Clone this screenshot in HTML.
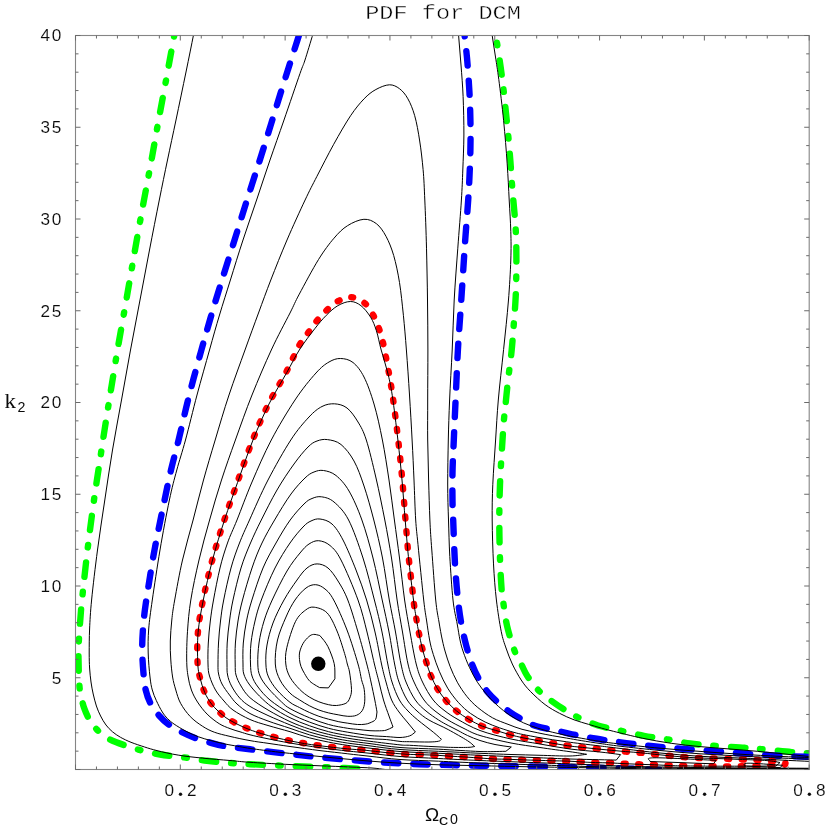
<!DOCTYPE html>
<html><head><meta charset="utf-8"><title>PDF for DCM</title>
<style>
html,body{margin:0;padding:0;background:#fff;}
body{width:830px;height:830px;overflow:hidden;}
svg{display:block;font-family:"Liberation Mono",monospace;}
</style></head><body>
<svg width="830" height="830" viewBox="0 0 830 830">
<rect width="830" height="830" fill="#fff"/>
<defs><clipPath id="c"><rect x="75.5" y="35.5" width="733.7" height="734.0"/></clipPath></defs>
<g clip-path="url(#c)">
<path d="M174.7 33.0C172.1 47.0 169.6 60.8 167.0 75.0C164.4 89.2 161.6 103.8 159.0 118.0C156.4 132.2 154.0 146.3 151.5 160.0C149.0 173.7 146.8 185.0 144.0 200.0C141.2 215.0 137.9 233.3 135.0 250.0C132.1 266.7 129.2 283.3 126.3 300.0C123.4 316.7 120.3 333.3 117.5 350.0C114.7 366.7 112.0 383.3 109.3 400.0C106.6 416.7 104.0 433.3 101.5 450.0C99.0 466.7 96.3 483.3 94.0 500.0C91.7 516.7 89.5 533.3 87.5 550.0C85.5 566.7 83.1 589.2 82.0 600.0C80.9 610.8 81.2 608.1 80.7 614.5C80.2 620.9 79.4 631.2 79.0 638.5C78.6 645.8 78.4 650.0 78.5 658.0C78.6 666.0 78.9 679.7 79.5 686.7C80.1 693.7 81.2 696.4 82.0 700.0C82.8 703.6 83.0 705.1 84.3 708.4C85.5 711.7 87.5 716.6 89.5 720.0C91.5 723.4 93.8 726.2 96.4 729.0C99.0 731.8 101.8 734.3 105.0 736.5C108.2 738.7 110.1 739.8 115.7 742.0C121.3 744.2 131.0 747.5 138.4 749.6C145.8 751.7 152.4 753.2 160.0 754.5C167.6 755.8 176.4 756.4 184.2 757.4C192.0 758.4 199.5 759.9 207.0 760.8C214.5 761.7 222.2 762.3 229.4 762.9C236.6 763.5 240.7 763.7 250.0 764.2C259.3 764.7 273.3 765.3 285.0 765.8C296.7 766.3 310.0 766.6 320.0 767.0C330.0 767.4 336.7 767.6 345.0 768.0C353.3 768.4 361.7 768.9 370.0 769.3" fill="none" stroke="#00ff00" stroke-width="6.40" stroke-linecap="round" stroke-linejoin="round" stroke-dasharray="14.4 14.9 2.6 15.2" stroke-dashoffset="28.2"/>
<path d="M495.3 33.0C495.9 36.5 496.2 37.6 497.1 43.4C498.0 49.1 499.6 59.7 500.7 67.5C501.8 75.3 502.7 82.8 503.6 90.4C504.5 98.0 505.2 105.5 506.0 113.3C506.8 121.1 507.7 129.3 508.4 137.3C509.1 145.3 509.8 153.6 510.4 161.4C511.0 169.2 511.5 177.9 512.0 184.3C512.5 190.7 512.7 192.6 513.3 200.0C513.9 207.4 515.2 219.0 515.7 229.0C516.2 239.0 516.4 248.8 516.4 260.0C516.4 271.2 516.2 285.5 515.7 296.4C515.2 307.3 514.4 316.4 513.7 325.3C513.0 334.2 512.6 340.8 511.7 350.0C510.8 359.2 508.9 372.4 508.0 380.7C507.1 389.0 506.6 393.8 506.0 400.0C505.4 406.2 504.7 411.3 504.1 418.0C503.5 424.7 503.2 428.9 502.5 440.0C501.8 451.1 500.5 470.9 500.0 484.3C499.5 497.7 499.3 508.1 499.3 520.5C499.3 533.0 499.6 547.4 500.0 559.0C500.4 570.6 501.1 582.8 501.7 590.4C502.3 598.0 502.7 598.8 503.6 604.8C504.5 610.8 505.4 618.9 507.2 626.5C509.0 634.1 512.2 644.4 514.5 650.6C516.8 656.9 519.1 659.9 521.2 664.0C523.3 668.1 524.1 671.1 527.0 675.5C529.9 679.9 534.3 686.0 538.6 690.4C542.9 694.8 548.6 698.7 553.0 702.0C557.4 705.3 561.0 707.5 565.0 710.0C569.0 712.5 571.6 714.3 577.1 716.9C582.6 719.5 590.6 723.2 598.0 725.5C605.4 727.8 613.6 729.1 621.3 730.8C629.0 732.5 636.3 734.4 644.0 735.8C651.7 737.2 659.9 738.1 667.6 739.4C675.3 740.7 682.3 742.4 690.0 743.5C697.7 744.6 704.8 745.1 713.9 745.8C723.0 746.5 737.0 747.2 744.8 747.8C752.6 748.3 753.0 748.4 760.8 749.1C768.6 749.8 783.2 751.4 791.7 752.1C800.2 752.8 805.2 753.0 812.0 753.4" fill="none" stroke="#00ff00" stroke-width="6.40" stroke-linecap="round" stroke-linejoin="round" stroke-dasharray="14.35 14.84 2.6 15.13" stroke-dashoffset="19.2"/>
<path d="M299.7 33.0C297.5 40.0 296.3 43.7 293.0 54.0C289.7 64.3 285.0 79.0 280.0 95.0C275.0 111.0 268.5 132.5 263.0 150.0C257.5 167.5 252.0 184.2 247.0 200.0C242.0 215.8 237.5 230.7 233.0 245.0C228.5 259.3 223.9 273.6 220.2 285.8C216.4 298.0 213.6 307.3 210.5 318.0C207.4 328.7 205.0 337.0 201.4 350.0C197.8 363.0 192.8 381.0 189.0 396.0C185.2 411.0 181.6 427.7 178.6 440.0C175.6 452.3 173.3 460.0 171.0 470.0C168.7 480.0 167.3 486.7 164.6 500.0C161.8 513.3 157.6 533.3 154.5 550.0C151.4 566.7 148.2 587.7 146.3 600.0C144.5 612.3 144.1 616.0 143.4 624.0C142.7 632.0 142.2 640.2 142.2 648.2C142.2 656.2 142.8 665.3 143.4 672.3C144.0 679.3 144.5 684.8 145.7 690.0C146.9 695.2 148.3 699.1 150.5 703.3C152.7 707.5 155.8 711.7 158.9 715.3C162.0 718.9 165.4 722.1 169.2 724.9C173.0 727.7 177.4 730.0 181.8 732.2C186.2 734.4 191.1 736.5 195.7 738.2C200.3 739.9 204.8 741.1 209.5 742.4C214.2 743.7 217.2 744.9 224.0 746.0C230.8 747.1 239.8 748.0 250.0 749.3C260.2 750.5 273.3 752.2 285.0 753.5C296.7 754.8 307.5 756.1 320.0 757.3C332.5 758.5 346.7 759.8 360.0 760.8C373.3 761.8 386.7 762.7 400.0 763.4C413.3 764.1 426.7 764.4 440.0 764.8C453.3 765.2 465.0 765.4 480.0 765.7C495.0 766.0 513.3 766.2 530.0 766.5C546.7 766.8 563.7 766.9 580.0 767.3C596.3 767.6 614.7 768.1 628.0 768.6C641.3 769.1 649.3 769.5 660.0 770.0" fill="none" stroke="#0000ff" stroke-width="6.40" stroke-linecap="round" stroke-linejoin="round" stroke-dasharray="14.3 15.03" stroke-dashoffset="26.5"/>
<path d="M464.3 33.0C465.2 41.3 466.1 48.0 467.0 57.8C467.9 67.6 468.8 81.1 469.4 91.6C470.0 102.0 470.2 110.9 470.4 120.5C470.6 130.1 470.6 139.8 470.4 149.4C470.2 159.0 469.8 169.9 469.4 178.3C469.0 186.7 468.8 190.4 468.2 200.0C467.6 209.6 466.4 223.9 465.5 236.0C464.6 248.1 464.0 259.0 463.1 272.3C462.2 285.6 461.1 302.8 460.2 315.7C459.3 328.6 458.7 335.9 457.9 350.0C457.1 364.1 456.3 385.0 455.6 400.0C454.9 415.0 454.3 427.9 453.8 440.0C453.3 452.1 452.7 462.1 452.5 472.3C452.3 482.5 452.4 493.2 452.5 501.2C452.6 509.1 452.8 509.6 453.2 520.0C453.6 530.5 454.2 550.6 455.0 563.9C455.8 577.2 456.9 590.0 458.0 600.0C459.1 610.0 460.0 616.4 461.4 624.0C462.8 631.6 464.5 639.1 466.3 645.8C468.1 652.5 469.9 658.5 472.0 664.0C474.1 669.5 476.2 674.2 478.9 679.0C481.6 683.8 484.9 688.7 488.0 692.5C491.1 696.3 493.8 698.7 497.3 701.8C500.8 704.9 504.9 708.5 508.8 711.3C512.7 714.1 516.8 716.5 520.8 718.8C524.8 721.1 528.6 723.3 533.0 725.0C537.4 726.7 542.4 727.7 547.0 728.8C551.6 729.9 555.8 730.5 560.7 731.6C565.6 732.7 571.6 734.2 576.4 735.2C581.2 736.2 584.7 736.8 589.5 737.6C594.3 738.4 600.6 739.5 605.4 740.2C610.2 740.9 613.6 741.4 618.4 742.0C623.2 742.6 629.5 743.5 634.3 744.1C639.1 744.7 642.5 745.0 647.3 745.5C652.1 746.0 658.3 746.8 663.3 747.3C668.3 747.8 672.4 748.0 677.2 748.4C682.0 748.8 687.3 749.2 692.1 749.6C696.9 750.0 700.9 750.3 705.9 750.7C710.9 751.1 716.9 751.4 721.9 751.8C726.9 752.2 730.8 752.6 735.6 753.0C740.4 753.4 745.7 753.8 750.5 754.1C755.3 754.4 759.6 754.6 764.2 754.9C768.8 755.2 773.0 755.5 778.0 755.7C783.0 756.0 788.3 756.2 794.0 756.4C799.7 756.6 806.0 756.8 812.0 757.0" fill="none" stroke="#0000ff" stroke-width="6.40" stroke-linecap="round" stroke-linejoin="round" stroke-dasharray="14.3 15.03" stroke-dashoffset="11.0"/>
<path d="M351.3 297.2C355.8 297.5 361.2 300.2 364.8 303.2C368.4 306.1 370.8 310.7 373.1 314.9C375.5 319.1 377.2 323.7 378.9 328.4C380.6 333.1 381.6 336.3 383.1 342.9C384.6 349.5 386.4 359.2 388.0 368.0C389.6 376.8 390.9 383.7 392.6 395.7C394.3 407.7 396.6 425.9 398.2 440.0C399.8 454.1 401.1 466.7 402.3 480.0C403.5 493.3 404.4 507.2 405.5 520.0C406.6 532.8 407.4 544.9 408.6 556.6C409.8 568.3 411.6 582.5 412.5 590.4C413.4 598.3 413.4 599.5 414.0 604.3C414.6 609.1 415.6 614.2 416.4 619.1C417.2 624.0 418.0 628.7 419.0 633.5C420.0 638.3 421.0 643.2 422.2 648.0C423.4 652.8 424.8 657.6 426.3 662.2C427.8 666.9 429.1 671.5 431.0 675.9C432.9 680.3 435.0 684.8 437.5 688.9C440.0 693.0 443.0 697.1 446.2 700.8C449.4 704.5 452.9 707.9 456.6 711.0C460.4 714.1 464.4 716.8 468.7 719.3C473.0 721.8 477.9 724.4 482.4 726.2C486.9 728.1 491.2 729.0 495.7 730.4C500.2 731.8 504.8 733.3 509.5 734.6C514.2 735.9 519.1 737.0 524.0 738.0C528.9 739.0 533.9 739.8 538.7 740.7C543.5 741.6 548.1 742.5 552.9 743.3C557.7 744.1 562.4 745.0 567.3 745.7C572.2 746.4 577.4 746.9 582.3 747.4C587.2 747.9 591.9 748.4 596.7 748.9C601.5 749.4 606.4 749.8 611.2 750.3C616.0 750.8 620.8 751.2 625.7 751.6C630.6 752.0 635.8 752.3 640.6 752.8C645.5 753.2 650.0 753.8 654.8 754.3C659.6 754.8 664.6 755.3 669.5 755.8C674.4 756.3 679.2 756.7 684.1 757.1C689.0 757.5 694.1 757.8 699.0 758.0C703.9 758.2 708.6 758.2 713.4 758.4C718.2 758.5 722.8 758.7 727.6 758.9C732.5 759.1 737.5 759.3 742.5 759.5C747.5 759.7 752.6 759.8 757.4 760.0C762.2 760.2 767.0 760.7 771.1 761.0C775.2 761.3 779.6 761.2 782.0 761.6C784.4 762.0 785.4 762.6 785.5 763.3C785.6 764.0 784.9 765.1 782.5 765.6C780.1 766.1 777.9 765.9 771.1 766.0C764.4 766.1 751.7 766.2 742.0 766.3C732.3 766.3 722.6 766.4 713.0 766.3C703.4 766.2 691.5 766.0 684.2 765.9C676.9 765.8 673.9 765.7 669.0 765.5C664.1 765.3 659.5 765.0 654.6 764.8C649.7 764.6 644.3 764.5 639.4 764.3C634.5 764.1 629.8 763.9 625.0 763.7C620.2 763.5 615.5 763.1 610.5 762.9C605.5 762.7 600.2 762.8 595.3 762.6C590.3 762.4 585.5 762.1 580.8 761.9C576.1 761.6 572.0 761.3 567.3 761.1C562.5 760.9 557.1 760.9 552.3 760.8C547.4 760.7 543.0 760.4 538.2 760.3C533.4 760.1 528.3 760.1 523.4 759.9C518.5 759.7 513.7 759.4 508.9 759.3C504.1 759.1 499.1 759.2 494.5 759.0C489.9 758.8 486.1 758.4 481.2 758.1C476.3 757.8 470.1 757.3 465.0 757.0C459.9 756.7 455.3 756.5 450.5 756.2C445.7 755.9 440.9 755.5 436.0 755.2C431.1 755.0 426.0 754.9 421.0 754.7C416.0 754.5 412.0 754.6 406.0 754.2C400.0 753.8 391.7 753.0 385.0 752.3C378.3 751.6 372.2 750.8 366.0 750.2C359.8 749.6 353.2 749.1 347.8 748.6C342.4 748.1 338.2 747.6 333.4 747.1C328.6 746.6 323.7 746.0 318.9 745.4C314.1 744.8 309.1 744.1 304.5 743.3C299.9 742.5 295.8 741.8 291.0 740.8C286.2 739.8 280.7 738.6 275.8 737.4C270.9 736.2 265.7 734.7 261.4 733.4C257.1 732.1 253.6 730.9 250.0 729.5C246.4 728.1 243.3 726.8 240.0 725.2C236.7 723.6 233.0 721.8 230.0 720.0C227.0 718.2 225.2 717.3 222.2 714.7C219.2 712.1 214.8 708.2 211.9 704.5C209.0 700.8 206.7 696.9 204.7 692.4C202.7 687.9 201.2 682.6 200.0 677.7C198.8 672.9 197.9 670.8 197.6 663.3C197.2 655.8 197.0 643.0 197.9 632.5C198.8 622.0 200.6 612.1 203.0 600.0C205.4 587.9 208.8 573.3 212.3 560.0C215.9 546.7 220.1 532.9 224.3 520.0C228.5 507.1 232.6 495.7 237.3 482.4C242.0 469.1 247.5 453.1 252.7 440.0C257.9 426.9 262.9 415.2 268.5 404.0C274.1 392.8 280.9 382.3 286.0 372.5C291.1 362.7 295.6 351.8 299.3 345.2C303.0 338.6 305.1 337.0 308.0 333.0C310.9 329.0 313.6 324.9 316.6 321.1C319.7 317.4 322.8 313.8 326.3 310.5C329.8 307.2 333.6 303.4 337.8 301.2C342.0 299.0 346.8 296.9 351.3 297.2Z" fill="none" stroke="#ff0000" stroke-width="6.40" stroke-linecap="round" stroke-linejoin="round" stroke-dasharray="2.1 12.554" stroke-dashoffset="0.2"/>
<g fill="none" stroke="#000" stroke-width="1.0" stroke-linejoin="miter" stroke-miterlimit="10"><path d="M319.8 635.5C321.2 637.2 322.6 638.7 324.0 640.5C325.4 642.3 326.6 644.1 327.9 646.5C329.1 648.9 330.4 652.1 331.5 655.0C332.6 657.9 333.6 660.9 334.2 663.6C334.8 666.3 334.8 668.5 334.9 671.0C335.0 673.5 334.9 676.2 334.9 678.8L328.4 687.9L319.6 687.6C317.6 686.4 315.3 685.2 313.5 684.0C311.7 682.8 310.4 682.0 308.9 680.2C307.4 678.5 305.8 675.8 304.5 673.5C303.2 671.2 301.8 668.8 301.0 666.5C300.2 664.2 299.7 661.9 299.5 659.5C299.3 657.1 299.1 654.7 299.7 652.0C300.3 649.3 301.6 646.0 303.1 643.4C304.6 640.8 307.1 638.1 308.9 636.6C310.6 635.1 311.8 634.6 313.6 634.4C315.4 634.2 317.7 635.1 319.8 635.5Z"/><path d="M314.2 607.2C317.8 607.7 323.4 609.0 327.2 613.0C331.0 617.0 334.1 624.2 337.0 631.0C339.9 637.8 342.9 648.0 344.6 653.5C346.3 659.0 346.5 660.9 347.3 664.0C348.1 667.1 348.8 667.8 349.5 672.0C350.2 676.2 351.4 685.0 351.5 689.3C351.6 693.6 350.7 695.7 349.8 698.0C348.9 700.3 348.1 702.0 345.9 703.3C343.6 704.5 339.2 705.3 336.3 705.5C333.4 705.7 331.5 705.3 328.6 704.7C325.7 704.1 322.1 703.1 318.9 701.8C315.7 700.5 312.5 699.1 309.3 697.0C306.1 694.9 302.8 692.6 299.6 689.3C296.4 686.0 292.3 681.4 290.0 677.2C287.7 673.0 286.3 668.9 285.8 664.0C285.3 659.1 285.2 654.8 286.8 647.7C288.4 640.7 292.3 628.0 295.4 621.7C298.5 615.4 302.4 612.5 305.5 610.1C308.6 607.7 310.6 606.7 314.2 607.2Z"/><path d="M315.7 584.7C318.9 584.9 322.0 586.5 325.0 589.0C328.0 591.5 330.0 593.2 333.7 600.0C337.4 606.8 342.9 619.3 347.0 630.0C351.1 640.7 355.6 655.7 358.0 664.0C360.4 672.3 360.5 675.4 361.5 679.6C362.5 683.8 363.7 685.6 364.2 689.3C364.7 693.0 365.0 698.3 364.7 701.8C364.4 705.3 363.7 708.2 362.3 710.5C360.9 712.8 358.9 714.3 356.5 715.3C354.1 716.3 350.9 716.4 347.8 716.3C344.8 716.2 341.4 715.4 338.2 714.8C335.0 714.2 331.8 713.7 328.6 712.9C325.4 712.1 322.1 711.2 318.9 710.0C315.7 708.8 312.5 707.4 309.3 705.7C306.1 704.0 302.8 702.0 299.6 699.9C296.4 697.8 293.3 696.4 290.0 693.1C286.7 689.8 282.4 684.9 280.0 680.0C277.6 675.1 275.7 670.7 275.3 664.0C274.9 657.3 275.7 647.8 277.5 640.0C279.3 632.2 283.1 623.7 286.0 617.0C288.9 610.3 291.7 604.8 295.0 600.0C298.3 595.2 302.6 590.5 306.0 588.0C309.4 585.5 312.5 584.5 315.7 584.7Z"/><path d="M377.0 712.0C376.5 714.5 376.7 717.7 375.5 719.5C374.3 721.3 371.7 722.0 370.0 722.8C368.3 723.6 367.3 723.9 365.2 724.2C363.1 724.5 360.4 724.7 357.5 724.5C354.6 724.3 351.0 723.7 347.8 723.2C344.6 722.7 341.4 722.3 338.2 721.6C335.0 720.9 331.8 720.1 328.6 719.2C325.4 718.3 322.1 717.4 318.9 716.3C315.7 715.2 312.5 713.8 309.3 712.4C306.1 711.0 302.8 709.3 299.6 707.6C296.4 705.9 293.8 705.2 290.0 702.3C286.2 699.4 280.6 694.2 277.0 690.0C273.4 685.8 270.4 681.3 268.5 677.0C266.6 672.7 266.1 669.3 265.9 664.0C265.6 658.7 265.8 651.8 267.0 645.0C268.2 638.2 270.2 630.5 273.0 623.0C275.8 615.5 280.0 607.2 284.0 600.0C288.0 592.8 293.2 585.3 297.0 580.0C300.8 574.7 303.6 570.7 307.0 568.0C310.4 565.3 313.6 563.9 317.1 563.9C320.6 563.9 324.5 565.1 328.0 568.0C331.5 570.9 334.7 575.7 338.0 581.0C341.3 586.3 344.5 591.5 347.8 600.0C351.1 608.5 354.8 621.3 358.0 632.0C361.2 642.7 364.6 655.7 366.8 664.0C369.0 672.3 369.7 676.0 371.0 682.0C372.3 688.0 373.8 695.0 374.8 700.0C375.8 705.0 376.3 708.0 377.0 712.0Z"/><path d="M393.0 727.0C390.7 728.1 388.2 729.6 386.0 730.2C383.8 730.8 382.2 730.7 379.5 730.8C376.8 730.9 373.6 730.9 370.0 730.7C366.4 730.5 361.5 729.8 357.8 729.4C354.1 729.0 352.7 729.1 347.8 728.3C342.9 727.5 335.0 726.3 328.6 724.5C322.2 722.7 315.7 720.4 309.3 717.7C302.9 715.1 294.6 711.2 290.0 708.6C285.4 706.0 285.3 705.4 281.6 702.0C277.9 698.6 271.6 692.3 268.0 688.0C264.4 683.7 261.7 680.0 260.0 676.0C258.3 672.0 258.0 669.5 257.8 664.0C257.6 658.5 258.0 650.2 259.0 643.0C260.0 635.8 261.8 628.2 264.0 621.0C266.2 613.8 268.4 608.3 272.2 600.0C276.0 591.7 282.4 578.8 287.0 571.0C291.6 563.2 296.3 557.5 300.0 553.0C303.7 548.5 305.9 546.0 309.0 544.0C312.1 542.0 315.1 540.5 318.6 540.7C322.1 541.0 326.3 542.3 330.0 545.5C333.7 548.7 336.3 550.9 341.0 560.0C345.7 569.1 353.7 588.0 358.0 600.0C362.3 612.0 364.3 621.3 367.0 632.0C369.7 642.7 372.4 655.7 374.4 664.0C376.4 672.3 377.5 676.0 379.0 682.0C380.5 688.0 381.8 694.3 383.5 700.0C385.2 705.7 387.4 711.5 389.0 716.0C390.6 720.5 391.7 723.3 393.0 727.0Z"/><path d="M415.4 732.0C413.5 733.3 412.2 735.0 409.6 735.9C407.0 736.8 403.8 737.4 400.0 737.5C396.2 737.6 391.7 736.9 386.7 736.6C381.7 736.3 376.5 736.2 370.0 735.5C363.5 734.8 354.7 733.4 347.8 732.2C340.9 731.0 335.0 730.0 328.6 728.3C322.2 726.6 315.7 724.5 309.3 722.0C302.9 719.5 296.6 717.1 290.0 713.4C283.4 709.7 275.3 704.4 270.0 700.0C264.7 695.6 261.0 691.0 258.0 687.0C255.0 683.0 253.2 679.8 252.0 676.0C250.8 672.2 250.7 669.5 250.5 664.0C250.3 658.5 250.2 650.2 251.0 643.0C251.8 635.8 253.3 628.2 255.0 621.0C256.7 613.8 258.0 608.8 261.3 600.0C264.6 591.2 270.2 577.5 275.0 568.0C279.8 558.5 285.3 549.8 290.0 543.0C294.7 536.2 299.5 530.7 303.0 527.0C306.5 523.3 308.2 522.3 311.0 521.0C313.8 519.7 316.5 518.5 320.0 519.0C323.5 519.5 328.2 520.5 332.0 524.0C335.8 527.5 339.0 532.3 343.0 540.0C347.0 547.7 352.1 560.0 356.0 570.0C359.9 580.0 363.4 589.7 366.6 600.0C369.8 610.3 372.5 621.3 375.0 632.0C377.5 642.7 379.7 655.7 381.5 664.0C383.3 672.3 384.3 676.0 386.0 682.0C387.7 688.0 389.4 695.0 391.6 700.0C393.8 705.0 396.4 708.3 399.0 712.0C401.6 715.7 404.5 718.7 407.2 722.0C409.9 725.3 412.7 728.7 415.4 732.0Z"/><path d="M441.4 739.3C440.5 739.9 440.7 740.8 438.6 741.2C436.5 741.7 433.7 741.9 428.9 742.0C424.1 742.1 414.4 741.8 409.6 741.7C404.8 741.6 403.8 741.8 400.0 741.4C396.2 741.0 391.7 740.1 386.7 739.6C381.7 739.1 376.5 739.3 370.0 738.6C363.5 737.9 354.7 736.6 347.8 735.5C340.9 734.4 335.0 733.3 328.6 731.7C322.2 730.1 315.7 728.0 309.3 725.7C302.9 723.4 296.2 720.8 290.0 717.7C283.8 714.6 277.1 710.6 272.0 707.0C266.9 703.4 263.2 699.8 259.4 696.0C255.6 692.2 251.6 687.7 249.0 684.0C246.4 680.3 244.8 677.3 243.8 674.0C242.8 670.7 243.1 669.2 243.0 664.0C242.9 658.8 242.7 650.2 243.3 643.0C243.9 635.8 245.1 628.2 246.5 621.0C247.9 613.8 249.2 608.8 251.9 600.0C254.7 591.2 259.0 577.5 263.0 568.0C267.0 558.5 271.5 551.0 276.0 543.0C280.5 535.0 285.5 526.5 290.2 520.0C294.9 513.5 300.4 507.6 304.0 504.0C307.6 500.4 309.1 499.7 312.0 498.5C314.9 497.3 317.8 496.2 321.5 496.8C325.2 497.4 329.5 498.1 334.0 502.0C338.5 505.9 343.8 510.7 348.6 520.0C353.4 529.3 358.7 544.7 363.0 558.0C367.3 571.3 371.2 587.7 374.4 600.0C377.6 612.3 379.8 621.3 382.0 632.0C384.2 642.7 386.1 655.7 387.8 664.0C389.5 672.3 390.1 676.0 392.0 682.0C393.9 688.0 396.7 695.2 399.4 700.0C402.1 704.8 404.9 707.7 408.0 711.0C411.1 714.3 413.5 716.4 417.8 720.0C422.1 723.6 429.8 729.3 433.7 732.5C437.6 735.7 438.8 737.0 441.4 739.3Z"/><path d="M474.7 746.5C472.3 746.8 471.9 747.3 467.5 747.4C463.1 747.5 454.6 747.5 448.2 747.3C441.8 747.1 435.3 746.7 428.9 746.4C422.5 746.1 414.4 745.5 409.6 745.3C404.8 745.0 406.6 745.6 400.0 744.9C393.4 744.2 378.7 742.4 370.0 741.3C361.3 740.2 354.7 739.4 347.8 738.2C340.9 737.1 335.0 735.9 328.6 734.4C322.2 732.9 315.7 731.1 309.3 729.0C302.9 726.9 296.9 724.8 290.0 721.6C283.1 718.4 274.7 714.0 268.0 710.0C261.3 706.0 254.5 701.7 250.0 697.7C245.5 693.7 243.3 689.8 241.0 686.0C238.7 682.2 237.0 678.7 236.0 675.0C235.0 671.3 235.3 669.3 235.2 664.0C235.1 658.7 234.9 650.2 235.4 643.0C235.9 635.8 236.8 628.2 238.0 621.0C239.2 613.8 240.2 608.8 242.5 600.0C244.8 591.2 248.8 577.5 252.0 568.0C255.2 558.5 258.2 551.0 262.0 543.0C265.8 535.0 269.8 528.2 274.6 520.0C279.4 511.8 285.9 501.0 291.0 494.0C296.1 487.0 301.2 481.7 305.0 478.0C308.8 474.3 310.9 473.2 314.0 472.0C317.1 470.8 319.8 469.9 323.5 470.5C327.2 471.1 331.8 472.1 336.0 475.5C340.2 478.9 344.7 483.6 349.0 491.0C353.3 498.4 357.9 508.8 361.9 520.0C365.9 531.2 369.6 544.7 373.0 558.0C376.4 571.3 379.5 587.7 382.2 600.0C384.9 612.3 386.9 621.3 389.0 632.0C391.1 642.7 392.9 655.7 394.6 664.0C396.3 672.3 396.9 676.0 399.0 682.0C401.1 688.0 404.2 695.2 407.2 700.0C410.2 704.8 413.4 707.7 417.0 711.0C420.6 714.3 423.7 716.9 428.9 720.0C434.1 723.1 441.8 726.1 448.2 729.6C454.6 733.1 463.1 737.9 467.5 740.7C471.9 743.5 472.3 744.6 474.7 746.5Z"/><path d="M511.3 747.0L505.9 751.3C497.3 751.4 491.2 751.9 480.0 751.5C468.8 751.1 451.9 749.9 438.6 749.2C425.3 748.5 411.4 748.4 400.0 747.5C388.6 746.6 378.7 744.7 370.0 743.6C361.3 742.5 354.7 741.8 347.8 740.7C340.9 739.6 335.0 738.5 328.6 737.0C322.2 735.5 315.7 734.0 309.3 732.0C302.9 730.0 296.9 727.6 290.0 724.9C283.1 722.1 274.7 718.6 268.0 715.5C261.3 712.4 254.7 709.3 250.0 706.4C245.3 703.5 242.8 701.4 239.7 698.0C236.6 694.6 233.5 689.8 231.5 686.0C229.5 682.2 228.3 678.7 227.6 675.0C226.8 671.3 227.1 669.3 227.0 664.0C226.9 658.7 226.8 650.2 227.2 643.0C227.6 635.8 228.5 628.2 229.5 621.0C230.5 613.8 231.1 608.8 233.0 600.0C234.9 591.2 238.1 577.5 241.0 568.0C243.9 558.5 247.1 551.0 250.5 543.0C253.9 535.0 256.9 528.8 261.3 520.0C265.7 511.2 271.6 499.3 277.0 490.0C282.4 480.7 288.8 471.2 294.0 464.0C299.2 456.8 304.2 450.8 308.0 447.0C311.8 443.2 313.8 442.2 317.0 441.0C320.2 439.8 323.5 439.0 327.5 439.6C331.5 440.2 336.6 440.9 341.0 444.5C345.4 448.1 350.2 454.1 354.0 461.0C357.8 467.9 360.7 476.2 364.0 486.0C367.3 495.8 370.7 508.0 373.8 520.0C376.9 532.0 379.9 544.7 382.5 558.0C385.1 571.3 387.1 587.7 389.3 600.0C391.5 612.3 393.6 621.3 395.5 632.0C397.4 642.7 399.2 655.7 401.0 664.0C402.8 672.3 403.6 676.0 406.0 682.0C408.4 688.0 412.0 695.2 415.3 700.0C418.6 704.8 422.1 707.7 426.0 711.0C429.9 714.3 434.9 717.6 438.6 720.0C442.3 722.4 445.0 723.8 448.2 725.5C451.4 727.2 454.8 728.8 458.0 730.5C461.2 732.2 463.8 733.8 467.5 735.5C471.2 737.2 475.4 739.0 480.0 740.5C484.6 742.0 489.8 743.4 495.0 744.5C500.2 745.6 505.9 746.2 511.3 747.0Z"/><path d="M586.6 754.3C581.1 754.9 577.8 755.8 570.0 756.0C562.2 756.2 549.8 755.5 540.0 755.3C530.2 755.0 521.0 754.8 511.0 754.5C501.0 754.2 492.1 753.8 480.0 753.3C467.9 752.8 451.9 751.9 438.6 751.3C425.3 750.7 411.4 750.4 400.0 749.5C388.6 748.6 378.7 747.0 370.0 745.9C361.3 744.8 354.7 744.1 347.8 743.1C340.9 742.1 335.0 741.0 328.6 739.6C322.2 738.2 315.7 736.7 309.3 734.8C302.9 732.9 296.9 730.6 290.0 728.3C283.1 726.0 274.7 723.5 268.0 721.0C261.3 718.5 255.2 716.3 250.0 713.5C244.8 710.7 240.4 707.1 237.0 704.0C233.6 700.9 232.0 698.3 229.5 695.0C227.0 691.7 223.8 687.5 222.0 684.0C220.2 680.5 219.3 677.3 218.6 674.0C217.9 670.7 218.0 669.2 218.0 664.0C218.0 658.8 218.1 650.2 218.5 643.0C218.9 635.8 219.6 628.2 220.5 621.0C221.4 613.8 221.9 608.8 223.7 600.0C225.4 591.2 228.4 577.5 231.0 568.0C233.6 558.5 236.4 551.0 239.5 543.0C242.6 535.0 244.8 530.5 249.5 520.0C254.2 509.5 261.1 493.3 268.0 480.0C274.9 466.7 284.0 450.5 290.8 440.0C297.6 429.5 303.8 422.6 309.0 417.0C314.2 411.4 317.8 408.7 322.0 406.5C326.2 404.3 330.3 403.6 334.5 403.8C338.7 404.1 343.1 405.0 347.0 408.0C350.9 411.0 354.8 416.7 358.0 422.0C361.2 427.3 363.3 430.7 366.3 440.0C369.3 449.3 372.9 464.7 376.0 478.0C379.1 491.3 382.2 506.7 384.8 520.0C387.4 533.3 389.4 544.7 391.5 558.0C393.6 571.3 395.3 587.7 397.1 600.0C398.9 612.3 400.7 621.3 402.5 632.0C404.3 642.7 406.1 655.7 408.0 664.0C409.9 672.3 411.3 676.0 414.0 682.0C416.7 688.0 420.5 695.2 424.0 700.0C427.5 704.8 431.0 707.7 435.0 711.0C439.0 714.3 443.2 717.1 448.0 720.0C452.8 722.9 458.7 725.9 464.0 728.5C469.3 731.1 472.2 733.1 480.0 735.5C487.8 737.9 501.0 741.0 511.0 743.0C521.0 745.0 530.2 746.0 540.0 747.5C549.8 749.0 562.2 750.6 570.0 751.7C577.8 752.8 581.1 753.4 586.6 754.3Z"/><path d="M620.6 754.6L616.3 760.1C600.9 759.7 582.7 759.4 570.0 759.0C557.3 758.6 549.8 758.2 540.0 757.8C530.2 757.4 521.0 757.0 511.0 756.6C501.0 756.2 492.1 755.8 480.0 755.3C467.9 754.8 451.9 753.9 438.6 753.3C425.3 752.7 411.4 752.4 400.0 751.5C388.6 750.6 378.7 749.2 370.0 748.2C361.3 747.2 354.7 746.4 347.8 745.4C340.9 744.4 335.0 743.4 328.6 742.1C322.2 740.8 315.7 739.5 309.3 737.8C302.9 736.1 296.9 733.8 290.0 731.7C283.1 729.7 274.7 727.5 268.0 725.5C261.3 723.5 255.8 722.1 250.0 719.5C244.2 716.9 237.3 713.1 233.0 710.0C228.7 706.9 226.9 704.3 224.0 701.0C221.1 697.7 217.9 694.2 215.5 690.0C213.1 685.8 210.8 680.3 209.5 676.0C208.2 671.7 208.2 669.5 208.0 664.0C207.8 658.5 207.9 650.2 208.3 643.0C208.7 635.8 209.4 628.2 210.3 621.0C211.2 613.8 211.9 608.8 213.5 600.0C215.1 591.2 217.7 577.5 220.0 568.0C222.3 558.5 224.7 551.0 227.5 543.0C230.3 535.0 232.9 530.2 237.0 520.0C241.1 509.8 246.3 495.3 252.0 482.0C257.7 468.7 264.1 453.7 271.3 440.0C278.5 426.3 287.6 411.2 295.0 400.0C302.4 388.8 310.3 379.3 316.0 373.0C321.7 366.7 324.9 364.4 329.0 362.0C333.1 359.6 336.5 358.4 340.5 358.5C344.5 358.6 349.1 359.4 353.0 362.5C356.9 365.6 360.5 370.1 364.0 377.0C367.5 383.9 370.9 393.5 374.0 404.0C377.1 414.5 379.9 427.3 382.4 440.0C384.9 452.7 387.0 466.7 389.0 480.0C391.0 493.3 392.6 507.0 394.4 520.0C396.1 533.0 397.8 544.7 399.5 558.0C401.2 571.3 402.9 587.7 404.6 600.0C406.4 612.3 408.1 621.3 410.0 632.0C411.9 642.7 414.1 655.7 416.2 664.0C418.3 672.3 419.7 676.0 422.5 682.0C425.3 688.0 429.4 695.2 433.2 700.0C436.9 704.8 440.9 707.8 445.0 711.0C449.1 714.2 452.2 716.2 458.0 719.5C463.8 722.8 471.2 727.2 480.0 730.5C488.8 733.8 501.0 736.8 511.0 739.0C521.0 741.2 530.2 742.3 540.0 744.0C549.8 745.7 560.0 747.7 570.0 749.0C580.0 750.3 591.6 751.1 600.0 752.0C608.4 752.9 613.7 753.7 620.6 754.6Z"/><path d="M780.0 762.5L776.0 766.0C764.7 766.1 752.5 766.2 742.0 766.2C731.5 766.2 722.6 766.2 713.0 766.2C703.4 766.2 691.5 766.0 684.2 765.9C676.9 765.8 673.9 765.7 669.0 765.5C664.1 765.3 659.5 765.0 654.6 764.8C649.7 764.6 644.3 764.5 639.4 764.3C634.5 764.1 629.8 763.9 625.0 763.7C620.2 763.5 615.5 763.1 610.5 762.9C605.5 762.7 600.2 762.8 595.3 762.6C590.3 762.4 585.5 762.1 580.8 761.9C576.1 761.6 572.0 761.3 567.3 761.1C562.5 760.9 557.1 760.9 552.3 760.8C547.4 760.7 543.0 760.4 538.2 760.3C533.4 760.1 528.3 760.1 523.4 759.9C518.5 759.7 513.7 759.4 508.9 759.3C504.1 759.1 499.1 759.2 494.5 759.0C489.9 758.8 486.1 758.4 481.2 758.1C476.3 757.8 470.1 757.3 465.0 757.0C459.9 756.7 455.3 756.5 450.5 756.2C445.7 755.9 440.9 755.5 436.0 755.2C431.1 755.0 426.0 754.9 421.0 754.7C416.0 754.5 412.0 754.6 406.0 754.2C400.0 753.8 391.7 753.1 385.0 752.5C378.3 751.9 372.2 750.9 366.0 750.3C359.8 749.7 353.2 749.4 347.8 748.9C342.4 748.4 338.2 747.9 333.4 747.4C328.6 746.9 323.7 746.2 318.9 745.6C314.1 745.0 309.1 744.4 304.5 743.6C299.9 742.8 295.8 742.0 291.0 741.0C286.2 740.0 280.7 738.8 275.8 737.6C270.9 736.4 265.7 734.9 261.4 733.6C257.1 732.3 253.6 731.1 250.0 729.8C246.4 728.4 243.3 727.1 240.0 725.5C236.7 723.9 233.0 722.1 230.0 720.3C227.0 718.5 225.2 717.3 222.2 714.7C219.2 712.1 214.8 708.2 211.9 704.5C209.0 700.8 206.7 696.9 204.7 692.4C202.7 687.9 201.2 682.6 200.0 677.7C198.8 672.9 198.1 670.8 197.8 663.3C197.5 655.8 197.2 643.0 198.1 632.5C199.0 622.0 200.9 612.1 203.3 600.0C205.7 587.9 209.0 573.3 212.5 560.0C216.0 546.7 220.3 532.9 224.5 520.0C228.7 507.1 232.8 495.7 237.6 482.4C242.3 469.1 247.8 453.1 253.0 440.0C258.2 426.9 263.4 415.2 269.0 404.0C274.6 392.8 281.8 381.5 286.8 372.5C291.9 363.5 294.7 357.3 299.3 350.0C303.9 342.7 310.2 334.6 314.7 328.8C319.2 323.0 322.4 319.2 326.3 315.3C330.2 311.4 333.8 308.0 337.8 305.7C341.8 303.4 346.5 301.5 350.4 301.5C354.3 301.5 357.6 303.1 361.0 305.7C364.4 308.3 368.0 313.0 370.6 317.2C373.2 321.4 374.6 325.2 376.4 330.7C378.2 336.2 379.3 343.1 381.2 350.0C383.1 356.9 385.6 364.4 387.5 372.0C389.4 379.6 390.6 384.4 392.3 395.7C394.0 407.0 396.3 425.9 397.9 440.0C399.5 454.1 400.8 466.7 402.0 480.0C403.2 493.3 404.1 507.2 405.2 520.0C406.3 532.8 407.0 543.3 408.4 556.6C409.8 569.9 412.2 589.6 413.5 600.0C414.8 610.4 415.5 613.5 416.4 619.1C417.3 624.7 418.0 628.7 419.0 633.5C420.0 638.3 421.0 643.2 422.2 648.0C423.4 652.8 424.8 657.6 426.3 662.2C427.8 666.9 429.1 671.5 431.0 675.9C432.9 680.3 435.0 684.8 437.5 688.9C440.0 693.0 443.0 697.1 446.2 700.8C449.4 704.5 452.9 707.9 456.6 711.0C460.4 714.1 464.4 716.8 468.7 719.3C473.0 721.8 477.9 724.4 482.4 726.2C486.9 728.1 491.2 729.0 495.7 730.4C500.2 731.8 504.8 733.3 509.5 734.6C514.2 735.9 519.1 737.0 524.0 738.0C528.9 739.0 533.9 739.8 538.7 740.7C543.5 741.6 548.1 742.5 552.9 743.3C557.7 744.1 562.4 745.0 567.3 745.7C572.2 746.4 577.4 746.9 582.3 747.4C587.2 747.9 591.9 748.4 596.7 748.9C601.5 749.4 606.4 749.8 611.2 750.3C616.0 750.8 620.8 751.2 625.7 751.6C630.6 752.0 635.8 752.3 640.6 752.8C645.5 753.2 650.0 753.8 654.8 754.3C659.6 754.8 664.6 755.3 669.5 755.8C674.4 756.3 679.2 756.7 684.1 757.1C689.0 757.5 694.1 757.8 699.0 758.0C703.9 758.2 708.6 758.2 713.4 758.4C718.2 758.5 722.8 758.7 727.6 758.9C732.5 759.1 737.5 759.3 742.5 759.5C747.5 759.7 752.6 759.8 757.4 760.0C762.2 760.2 767.3 760.6 771.1 761.0C774.9 761.4 777.0 762.0 780.0 762.5Z"/><path d="M812.0 761.5L812.0 768.3C801.3 768.2 792.0 768.2 780.0 768.1C768.0 768.0 753.3 768.0 740.0 767.9C726.7 767.8 713.3 767.8 700.0 767.6C686.7 767.5 673.3 767.3 660.0 767.0C646.7 766.7 633.3 766.5 620.0 766.0C606.7 765.5 593.3 764.8 580.0 764.3C566.7 763.8 556.7 763.4 540.0 762.8C523.3 762.2 496.9 761.2 480.0 760.5C463.1 759.8 451.9 759.2 438.6 758.5C425.3 757.8 411.4 757.4 400.0 756.5C388.6 755.6 378.7 754.2 370.0 753.3C361.3 752.4 356.1 751.9 347.8 751.0C339.5 750.1 329.6 749.0 320.0 747.7C310.4 746.4 298.7 744.5 290.0 743.0C281.3 741.5 274.7 740.2 268.0 738.8C261.3 737.4 254.7 736.0 250.0 734.8C245.3 733.6 243.3 732.8 240.0 731.8C236.7 730.8 233.5 730.0 230.0 728.6C226.5 727.2 223.0 726.1 219.2 723.7C215.4 721.3 210.7 717.7 207.1 714.1C203.5 710.5 200.1 706.0 197.5 702.0C194.9 698.0 193.0 694.3 191.4 690.0C189.8 685.7 188.8 681.0 188.0 676.0C187.2 671.0 186.8 667.5 186.7 660.0C186.6 652.5 186.8 641.3 187.5 631.3C188.2 621.3 188.9 611.9 190.8 600.0C192.7 588.1 195.9 573.3 199.0 560.0C202.1 546.7 205.8 533.3 209.6 520.0C213.3 506.7 217.2 493.3 221.5 480.0C225.8 466.7 230.3 454.2 235.4 440.0C240.5 425.8 246.0 410.0 252.0 395.0C258.0 380.0 265.0 363.7 271.3 350.0C277.6 336.3 285.3 322.3 290.0 313.0C294.7 303.7 294.5 303.0 299.3 294.1C304.1 285.2 312.8 268.7 318.6 259.4C324.4 250.1 329.2 243.8 334.0 238.2C338.8 232.6 342.5 228.8 347.5 225.7C352.5 222.5 359.1 219.6 363.9 219.3C368.7 219.0 372.7 220.9 376.4 223.7C380.1 226.5 383.1 231.0 386.0 236.3C388.9 241.6 391.4 247.8 393.7 255.5C395.9 263.2 397.9 272.5 399.5 282.5C401.1 292.5 402.2 304.1 403.4 315.3C404.5 326.6 405.4 336.7 406.4 350.0C407.4 363.3 408.6 380.0 409.5 395.0C410.4 410.0 411.4 425.8 412.1 440.0C412.9 454.2 413.4 466.7 414.0 480.0C414.6 493.3 415.0 509.2 415.7 520.0C416.4 530.8 416.7 531.3 418.0 544.6C419.3 557.9 422.3 587.4 423.7 600.0C425.1 612.6 425.5 613.3 426.5 620.0C427.5 626.7 428.5 634.2 429.6 640.0C430.7 645.8 431.7 649.3 433.3 654.5C434.9 659.7 436.9 665.7 439.3 671.3C441.7 676.9 444.5 683.0 447.7 688.2C450.9 693.4 454.8 698.5 458.6 702.7C462.4 706.9 466.2 710.3 470.6 713.5C475.0 716.7 480.3 719.6 485.1 722.0C489.9 724.4 494.7 726.1 499.5 727.8C504.3 729.5 510.0 731.3 514.0 732.4C518.0 733.5 519.4 733.8 523.4 734.6C527.4 735.4 533.0 736.4 537.8 737.3C542.6 738.1 547.5 739.0 552.3 739.7C557.1 740.5 561.9 741.1 566.7 741.8C571.5 742.5 575.7 743.0 581.2 743.7C586.8 744.4 593.5 745.2 600.0 746.0C606.5 746.8 610.0 747.2 620.0 748.4C630.0 749.6 646.7 751.7 660.0 753.0C673.3 754.3 686.7 755.5 700.0 756.3C713.3 757.1 726.7 757.4 740.0 758.0C753.3 758.6 768.0 759.4 780.0 760.0C792.0 760.6 801.3 761.0 812.0 761.5Z"/><path d="M812.0 759.3L812.0 768.9C801.3 768.8 792.0 768.8 780.0 768.7C768.0 768.7 753.3 768.7 740.0 768.6C726.7 768.5 713.3 768.5 700.0 768.4C686.7 768.3 673.3 768.2 660.0 768.0C646.7 767.8 633.3 767.6 620.0 767.3C606.7 767.0 593.3 766.7 580.0 766.3C566.7 765.9 556.7 765.5 540.0 765.0C523.3 764.5 496.9 763.6 480.0 763.0C463.1 762.4 451.9 761.8 438.6 761.2C425.3 760.6 411.4 760.3 400.0 759.5C388.6 758.7 378.7 757.2 370.0 756.3C361.3 755.3 356.1 754.8 347.8 753.8C339.5 752.8 329.6 751.8 320.0 750.6C310.4 749.4 298.7 747.7 290.0 746.5C281.3 745.3 274.7 744.3 268.0 743.3C261.3 742.3 256.3 741.8 250.0 740.6C243.7 739.5 235.9 737.8 230.0 736.4C224.1 735.0 218.9 733.9 214.3 732.2C209.7 730.5 206.3 728.7 202.3 726.1C198.3 723.5 193.8 720.3 190.2 716.5C186.6 712.7 183.0 707.7 180.6 703.3C178.2 698.9 177.1 694.4 175.8 690.0C174.5 685.6 173.4 682.0 172.6 677.0C171.8 672.0 171.2 666.0 170.8 660.0C170.4 654.0 170.1 647.7 170.3 641.0C170.5 634.3 171.1 626.8 171.8 620.0C172.5 613.2 172.9 610.0 174.7 600.0C176.5 590.0 179.4 573.3 182.5 560.0C185.6 546.7 189.6 533.3 193.1 520.0C196.6 506.7 199.8 493.3 203.5 480.0C207.2 466.7 210.9 454.2 215.2 440.0C219.4 425.8 224.0 410.0 229.0 395.0C234.0 380.0 240.1 363.7 245.0 350.0C249.9 336.3 254.2 324.7 258.5 313.0C262.8 301.3 266.1 292.2 270.8 280.0C275.6 267.8 281.3 253.3 287.0 240.0C292.7 226.7 300.1 210.6 305.1 200.0C310.1 189.4 312.1 185.7 316.9 176.4C321.7 167.1 328.1 154.4 333.7 144.3C339.3 134.2 345.5 123.3 350.6 115.7C355.7 108.1 359.9 103.2 364.1 98.8C368.3 94.4 371.7 91.8 375.9 89.5C380.1 87.2 385.5 84.9 389.4 84.8C393.3 84.7 396.4 86.4 399.5 88.7C402.6 91.0 405.4 94.3 407.9 98.8C410.4 103.3 412.7 108.7 414.7 115.7C416.7 122.7 418.3 132.0 419.7 141.0C421.1 150.0 422.2 159.8 423.1 169.6C424.0 179.4 424.2 186.9 424.8 200.0C425.4 213.1 426.1 231.5 426.5 248.2C426.9 264.9 427.3 283.0 427.5 300.0C427.7 317.0 427.9 333.3 427.9 350.0C427.9 366.7 427.7 385.0 427.7 400.0C427.7 415.0 427.5 426.7 427.7 440.0C427.9 453.3 428.2 466.7 428.6 480.0C429.0 493.3 429.4 508.3 429.9 520.0C430.4 531.7 430.8 536.7 431.8 550.0C432.8 563.3 434.5 588.0 435.7 600.0C436.9 612.0 437.9 615.3 439.0 622.0C440.1 628.7 441.2 635.0 442.3 640.0C443.4 645.0 444.0 647.6 445.3 652.0C446.6 656.4 448.1 661.5 450.1 666.5C452.1 671.5 454.5 677.2 457.3 682.2C460.1 687.2 463.6 692.4 467.0 696.6C470.4 700.8 473.6 704.0 477.8 707.5C482.1 711.0 487.5 715.0 492.5 717.8C497.5 720.6 503.1 722.4 508.0 724.3C512.9 726.2 517.0 727.9 522.0 729.3C527.0 730.7 532.8 731.7 537.8 732.8C542.8 733.9 547.5 734.8 552.3 735.7C557.1 736.6 561.9 737.3 566.7 738.1C571.5 738.9 575.7 739.7 581.2 740.6C586.8 741.5 593.5 742.6 600.0 743.5C606.5 744.4 610.0 745.0 620.0 746.2C630.0 747.4 646.7 749.2 660.0 750.5C673.3 751.8 686.7 752.9 700.0 753.8C713.3 754.7 726.7 755.3 740.0 756.0C753.3 756.7 768.0 757.5 780.0 758.0C792.0 758.5 801.3 758.9 812.0 759.3Z"/><path d="M313.3 33.0C310.5 42.0 307.2 53.2 305.0 60.0C302.8 66.8 303.5 63.5 300.0 73.5C296.5 83.5 289.0 105.6 284.0 120.0C279.0 134.4 274.6 146.7 270.0 160.0C265.4 173.3 261.1 186.7 256.6 200.0C252.1 213.3 247.4 226.7 243.0 240.0C238.6 253.3 234.3 267.5 230.4 280.0C226.5 292.5 223.0 303.3 219.5 315.0C216.0 326.7 213.2 336.7 209.5 350.0C205.8 363.3 201.0 380.0 197.0 395.0C193.0 410.0 188.9 427.5 185.5 440.0C182.1 452.5 179.5 460.0 176.8 470.0C174.1 480.0 172.2 486.7 169.4 500.0C166.6 513.3 162.8 533.3 160.0 550.0C157.2 566.7 154.2 586.8 152.3 600.0C150.4 613.2 149.4 620.2 148.7 629.0C148.0 637.8 148.0 645.0 148.2 653.0C148.4 661.0 149.3 670.8 150.0 677.0C150.7 683.2 151.2 686.1 152.3 690.0C153.4 693.9 154.6 696.8 156.3 700.5C158.0 704.2 160.4 709.0 162.3 712.0C164.2 715.0 165.5 716.5 167.5 718.5C169.5 720.5 171.0 722.0 174.1 724.1C177.2 726.2 182.1 729.2 186.1 731.3C190.1 733.4 194.2 735.2 198.2 736.7C202.2 738.2 206.2 739.3 210.2 740.4C214.2 741.5 218.3 742.5 222.3 743.4C226.3 744.3 229.7 744.9 234.3 745.7C238.9 746.5 242.4 747.3 250.0 748.4C257.6 749.5 268.3 750.9 280.0 752.3C291.7 753.6 306.7 755.2 320.0 756.5C333.3 757.8 346.7 759.2 360.0 760.3C373.3 761.4 386.7 762.5 400.0 763.2C413.3 764.0 426.7 764.4 440.0 764.8C453.3 765.2 465.0 765.4 480.0 765.7C495.0 766.0 513.3 766.5 530.0 766.8C546.7 767.1 561.7 767.3 580.0 767.6C598.3 767.9 620.0 768.4 640.0 768.7C660.0 769.0 680.0 769.1 700.0 769.3"/><path d="M458.4 33.0C459.3 43.7 460.2 54.4 461.0 65.0C461.8 75.6 462.6 84.7 463.1 96.4C463.6 108.1 463.9 122.7 463.9 135.0C463.8 147.3 463.2 159.2 462.8 170.0C462.4 180.8 462.2 187.0 461.4 200.0C460.6 213.0 459.0 231.5 457.8 248.2C456.6 264.9 455.1 283.0 454.2 300.0C453.3 317.0 453.0 333.3 452.2 350.0C451.4 366.7 450.2 385.0 449.6 400.0C449.0 415.0 448.6 426.0 448.3 440.0C448.0 454.0 447.7 470.7 447.7 484.0C447.7 497.3 448.1 507.9 448.5 520.0C448.9 532.1 449.1 543.3 449.8 556.6C450.6 569.9 451.8 588.8 453.0 600.0C454.2 611.2 456.0 617.3 457.2 624.0C458.4 630.7 459.0 635.3 460.0 640.0C461.0 644.7 461.7 647.4 463.3 652.0C464.9 656.6 467.2 662.7 469.6 667.7C472.0 672.7 474.4 677.6 477.4 682.2C480.4 686.8 484.0 691.4 487.5 695.4C491.0 699.4 494.6 703.0 498.3 706.3C502.0 709.6 505.3 712.2 509.5 715.0C513.7 717.8 518.7 720.6 523.4 722.8C528.1 725.0 533.0 726.6 537.8 728.2C542.6 729.8 547.5 731.0 552.3 732.2C557.1 733.4 561.9 734.5 566.7 735.5C571.5 736.5 575.7 737.2 581.2 738.2C586.8 739.2 593.5 740.4 600.0 741.4C606.5 742.4 610.0 742.9 620.0 744.0C630.0 745.1 646.7 747.0 660.0 748.2C673.3 749.4 686.7 750.4 700.0 751.4C713.3 752.4 726.7 753.4 740.0 754.2C753.3 755.0 768.0 755.8 780.0 756.4C792.0 757.0 801.3 757.2 812.0 757.6"/><path d="M193.9 33.0C191.3 46.0 189.0 57.5 186.0 72.0C183.0 86.5 179.1 105.3 176.0 120.0C172.9 134.7 170.3 146.7 167.5 160.0C164.7 173.3 162.3 185.0 159.3 200.0C156.3 215.0 152.7 233.3 149.5 250.0C146.3 266.7 143.2 283.3 140.0 300.0C136.8 316.7 133.6 333.3 130.5 350.0C127.4 366.7 124.5 383.3 121.5 400.0C118.5 416.7 115.3 433.3 112.5 450.0C109.7 466.7 107.3 483.3 104.8 500.0C102.3 516.7 99.7 533.3 97.5 550.0C95.3 566.7 92.9 586.8 91.6 600.0C90.3 613.2 90.0 620.2 89.6 629.0C89.2 637.8 89.2 646.5 89.2 653.0C89.2 659.5 89.3 663.2 89.6 668.0C89.9 672.8 90.4 677.7 91.0 682.0C91.6 686.3 92.3 690.0 93.2 694.0C94.1 698.0 95.2 702.3 96.4 706.0C97.6 709.7 99.0 712.8 100.6 716.0C102.2 719.2 104.0 722.4 106.0 725.0C108.0 727.6 110.1 729.8 112.5 731.8C114.9 733.8 117.4 735.5 120.5 737.3C123.6 739.0 127.0 740.7 131.0 742.3C135.0 743.9 140.3 745.6 144.6 747.0C148.9 748.4 151.4 749.2 157.0 750.6C162.6 752.0 170.6 753.9 178.2 755.1C185.8 756.4 193.7 757.2 202.3 758.1C210.9 759.0 222.1 759.8 230.0 760.5C237.9 761.2 240.8 761.7 250.0 762.3C259.2 762.9 273.3 763.7 285.0 764.3C296.7 764.9 309.2 765.3 320.0 765.8C330.8 766.2 341.3 766.6 350.0 767.0C358.7 767.4 366.0 767.6 372.0 768.0C378.0 768.4 381.3 769.1 386.0 769.6"/><path d="M491.8 33.0C493.0 41.0 494.3 49.2 495.5 57.0C496.7 64.8 497.4 68.9 498.8 79.5C500.2 90.1 502.2 106.4 503.6 120.5C505.0 134.6 506.3 150.7 507.2 163.9C508.1 177.2 508.6 188.8 509.2 200.0C509.8 211.2 510.5 221.3 510.8 231.3C511.1 241.3 511.2 248.4 510.8 260.0C510.4 271.6 509.6 286.1 508.4 301.0C507.2 315.9 505.3 332.9 503.6 349.4C501.9 365.9 499.6 384.9 498.3 400.0C497.0 415.1 496.5 425.9 495.6 440.0C494.7 454.1 493.4 471.0 492.8 484.3C492.2 497.6 492.1 506.7 492.2 520.0C492.3 533.3 492.8 550.6 493.5 563.9C494.2 577.2 495.1 588.8 496.4 600.0C497.7 611.2 499.6 623.3 501.2 631.3C502.8 639.3 504.1 642.5 506.0 648.0C507.9 653.5 509.8 658.7 512.3 664.0C514.8 669.3 518.2 675.4 521.2 680.0C524.2 684.6 526.6 687.5 530.6 691.6C534.6 695.7 540.3 701.0 545.1 704.6C549.9 708.2 554.7 710.8 559.5 713.3C564.3 715.8 569.2 718.0 574.0 719.8C578.8 721.6 584.1 723.0 588.4 724.3C592.7 725.6 595.8 726.5 600.0 727.7C604.2 728.9 606.4 729.5 613.4 731.3C620.4 733.0 632.7 736.2 642.3 738.2C651.9 740.2 661.6 741.9 671.2 743.3C680.8 744.7 690.2 745.6 700.0 746.6C709.8 747.6 720.4 748.2 730.0 749.0C739.6 749.8 748.2 750.5 757.4 751.3C766.6 752.1 775.9 753.1 785.0 754.0C794.1 754.9 803.0 755.9 812.0 756.8"/><path d="M716.0 760.3L713.5 763.8L650.0 761.5C651.3 760.3 643.0 758.0 654.0 757.8C665.0 757.6 695.3 759.5 716.0 760.3Z"/><path d="M782.5 765.3L780.0 767.6L744.0 766.0C745.3 765.1 741.6 763.3 748.0 763.2C754.4 763.1 771.0 764.6 782.5 765.3Z"/><path d="M677.0 768.6L812.0 768.6"/></g>
<circle cx="318.3" cy="663.8" r="7.2" fill="#000"/>
</g>
<g fill="none" stroke="#858585" stroke-width="1.1">
<rect x="75.5" y="35.5" width="733.7" height="734.0"/>
<path d="M75.50 769.50v-5.0M75.50 35.50v5.0M96.46 769.50v-3.0M96.46 35.50v3.0M117.43 769.50v-3.0M117.43 35.50v3.0M138.39 769.50v-3.0M138.39 35.50v3.0M159.35 769.50v-3.0M159.35 35.50v3.0M180.31 769.50v-5.0M180.31 35.50v5.0M201.28 769.50v-3.0M201.28 35.50v3.0M222.24 769.50v-3.0M222.24 35.50v3.0M243.20 769.50v-3.0M243.20 35.50v3.0M264.17 769.50v-3.0M264.17 35.50v3.0M285.13 769.50v-5.0M285.13 35.50v5.0M306.09 769.50v-3.0M306.09 35.50v3.0M327.05 769.50v-3.0M327.05 35.50v3.0M348.02 769.50v-3.0M348.02 35.50v3.0M368.98 769.50v-3.0M368.98 35.50v3.0M389.94 769.50v-5.0M389.94 35.50v5.0M410.91 769.50v-3.0M410.91 35.50v3.0M431.87 769.50v-3.0M431.87 35.50v3.0M452.83 769.50v-3.0M452.83 35.50v3.0M473.79 769.50v-3.0M473.79 35.50v3.0M494.76 769.50v-5.0M494.76 35.50v5.0M515.72 769.50v-3.0M515.72 35.50v3.0M536.68 769.50v-3.0M536.68 35.50v3.0M557.65 769.50v-3.0M557.65 35.50v3.0M578.61 769.50v-3.0M578.61 35.50v3.0M599.57 769.50v-5.0M599.57 35.50v5.0M620.53 769.50v-3.0M620.53 35.50v3.0M641.50 769.50v-3.0M641.50 35.50v3.0M662.46 769.50v-3.0M662.46 35.50v3.0M683.42 769.50v-3.0M683.42 35.50v3.0M704.39 769.50v-5.0M704.39 35.50v5.0M725.35 769.50v-3.0M725.35 35.50v3.0M746.31 769.50v-3.0M746.31 35.50v3.0M767.27 769.50v-3.0M767.27 35.50v3.0M788.24 769.50v-3.0M788.24 35.50v3.0M809.20 769.50v-5.0M809.20 35.50v5.0M75.50 769.50h5.0M809.20 769.50h-5.0M75.50 751.15h3.0M809.20 751.15h-3.0M75.50 732.80h3.0M809.20 732.80h-3.0M75.50 714.45h3.0M809.20 714.45h-3.0M75.50 696.10h3.0M809.20 696.10h-3.0M75.50 677.75h5.0M809.20 677.75h-5.0M75.50 659.40h3.0M809.20 659.40h-3.0M75.50 641.05h3.0M809.20 641.05h-3.0M75.50 622.70h3.0M809.20 622.70h-3.0M75.50 604.35h3.0M809.20 604.35h-3.0M75.50 586.00h5.0M809.20 586.00h-5.0M75.50 567.65h3.0M809.20 567.65h-3.0M75.50 549.30h3.0M809.20 549.30h-3.0M75.50 530.95h3.0M809.20 530.95h-3.0M75.50 512.60h3.0M809.20 512.60h-3.0M75.50 494.25h5.0M809.20 494.25h-5.0M75.50 475.90h3.0M809.20 475.90h-3.0M75.50 457.55h3.0M809.20 457.55h-3.0M75.50 439.20h3.0M809.20 439.20h-3.0M75.50 420.85h3.0M809.20 420.85h-3.0M75.50 402.50h5.0M809.20 402.50h-5.0M75.50 384.15h3.0M809.20 384.15h-3.0M75.50 365.80h3.0M809.20 365.80h-3.0M75.50 347.45h3.0M809.20 347.45h-3.0M75.50 329.10h3.0M809.20 329.10h-3.0M75.50 310.75h5.0M809.20 310.75h-5.0M75.50 292.40h3.0M809.20 292.40h-3.0M75.50 274.05h3.0M809.20 274.05h-3.0M75.50 255.70h3.0M809.20 255.70h-3.0M75.50 237.35h3.0M809.20 237.35h-3.0M75.50 219.00h5.0M809.20 219.00h-5.0M75.50 200.65h3.0M809.20 200.65h-3.0M75.50 182.30h3.0M809.20 182.30h-3.0M75.50 163.95h3.0M809.20 163.95h-3.0M75.50 145.60h3.0M809.20 145.60h-3.0M75.50 127.25h5.0M809.20 127.25h-5.0M75.50 108.90h3.0M809.20 108.90h-3.0M75.50 90.55h3.0M809.20 90.55h-3.0M75.50 72.20h3.0M809.20 72.20h-3.0M75.50 53.85h3.0M809.20 53.85h-3.0M75.50 35.50h5.0M809.20 35.50h-5.0" stroke-width="1" stroke="#6a6a6a"/>
</g>
<g fill="#0a0a0a" style="opacity:0.999">
<g font-family="Liberation Sans, sans-serif" font-size="17.2px" text-anchor="middle" stroke="#fff" stroke-width="0.12"><text x="169.21" y="795.90">0</text><circle cx="180.51" cy="794.20" r="1.75"/><text x="191.81" y="795.90">2</text><text x="274.03" y="795.90">0</text><circle cx="285.33" cy="794.20" r="1.75"/><text x="296.63" y="795.90">3</text><text x="378.84" y="795.90">0</text><circle cx="390.14" cy="794.20" r="1.75"/><text x="401.44" y="795.90">4</text><text x="483.66" y="795.90">0</text><circle cx="494.96" cy="794.20" r="1.75"/><text x="506.26" y="795.90">5</text><text x="588.47" y="795.90">0</text><circle cx="599.77" cy="794.20" r="1.75"/><text x="611.07" y="795.90">6</text><text x="693.29" y="795.90">0</text><circle cx="704.59" cy="794.20" r="1.75"/><text x="715.89" y="795.90">7</text><text x="798.10" y="795.90">0</text><circle cx="809.40" cy="794.20" r="1.75"/><text x="820.70" y="795.90">8</text><text x="56.65" y="683.65">5</text><text x="45.35" y="591.90">1</text><text x="56.65" y="591.90">0</text><text x="45.35" y="500.15">1</text><text x="56.65" y="500.15">5</text><text x="45.35" y="408.40">2</text><text x="56.65" y="408.40">0</text><text x="45.35" y="316.65">2</text><text x="56.65" y="316.65">5</text><text x="45.35" y="224.90">3</text><text x="56.65" y="224.90">0</text><text x="45.35" y="133.15">3</text><text x="56.65" y="133.15">5</text><text x="45.35" y="41.40">4</text><text x="56.65" y="41.40">0</text></g>
<text transform="translate(443.0 19.3) scale(1 0.850)" text-anchor="middle" font-size="23.6px" stroke="#fff" stroke-width="0.5" fill="#000">PDF for DCM</text>
<text transform="translate(4.6 408.0) scale(1.12 1)" font-family="Liberation Serif, serif" font-size="20.5px">k</text>
<text x="17.6" y="411.6" font-family="Liberation Sans, sans-serif" font-size="14.2px">2</text>
<text x="425.0" y="820.6" font-family="Liberation Sans, sans-serif" font-size="19.0px">&#937;</text>
<text transform="translate(438.6 824.6) scale(1.2 1)" font-size="14.5px">c</text>
<text x="450.0" y="824.0" font-family="Liberation Sans, sans-serif" font-size="14.2px">0</text>
</g>
</svg>
</body></html>
